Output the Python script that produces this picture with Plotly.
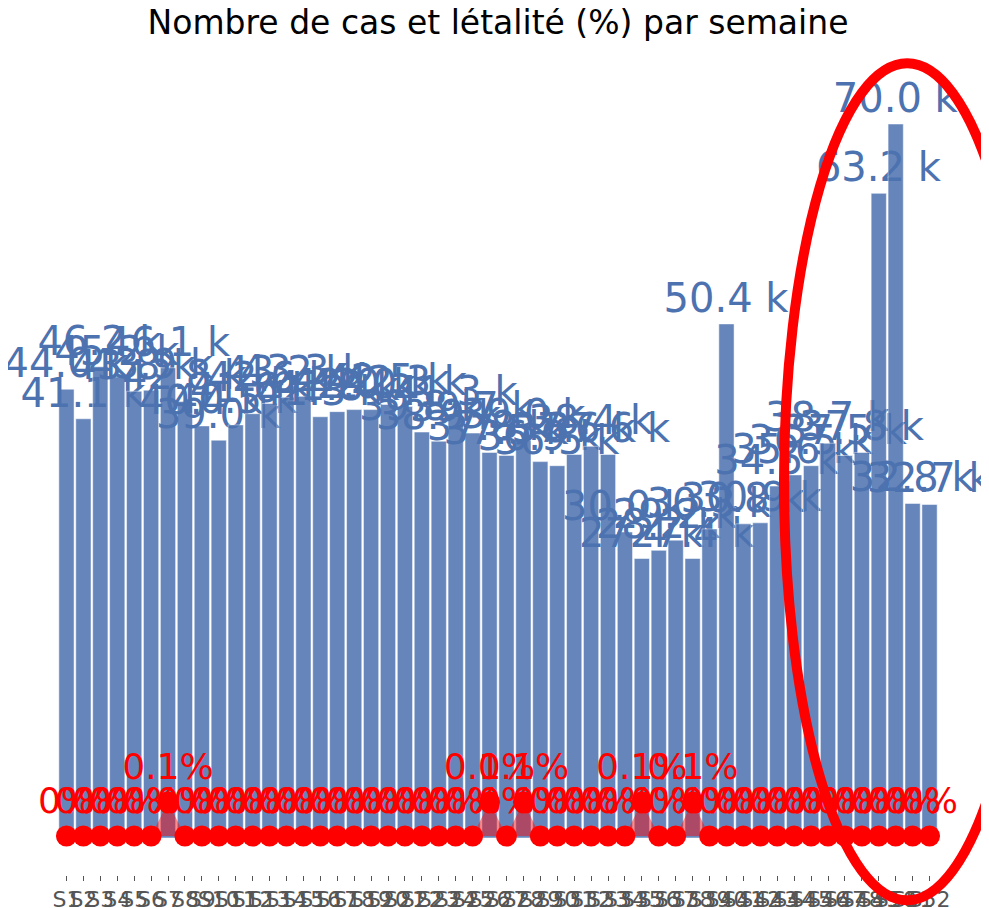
import plotly.graph_objects as go

weeks = ["S1", "S2", "S3", "S4", "S5", "S6", "S7", "S8", "S9", "S10",
         "S11", "S12", "S13", "S14", "S15", "S16", "S17", "S18", "S19", "S20",
         "S21", "S22", "S23", "S24", "S25", "S26", "S27", "S28", "S29", "S30",
         "S31", "S32", "S33", "S34", "S35", "S36", "S37", "S38", "S39", "S40",
         "S41", "S42", "S43", "S44", "S45", "S46", "S47", "S48", "S49", "S50",
         "S51", "S52"]

cases_k = [44.0, 41.1, 46.2, 45.2, 43.8, 43.9, 46.1, 42.8, 40.4, 39.0,
           40.5, 41.6, 42.6, 43.2, 43.3, 41.3, 41.8, 42.0, 42.0, 42.5,
           42.3, 39.8, 38.9, 41.3, 39.7, 37.8, 37.5, 39.0, 36.9, 36.5,
           37.6, 38.4, 37.6, 30.0, 27.4, 28.2, 29.2, 27.4, 30.3, 50.4,
           30.8, 30.9, 34.5, 35.6, 36.5, 38.7, 37.5, 37.8, 63.2, 70.0,
           32.8, 32.7]

lethality = [0, 0, 0, 0, 0, 0, 0.1, 0, 0, 0,
             0, 0, 0, 0, 0, 0, 0, 0, 0, 0,
             0, 0, 0, 0, 0, 0.1, 0, 0.1, 0, 0,
             0, 0, 0, 0, 0.1, 0, 0, 0.1, 0, 0,
             0, 0, 0, 0, 0, 0, 0, 0, 0, 0,
             0, 0]

cases = [v * 1000 for v in cases_k]
bar_text = [f"{v:.1f} k" for v in cases_k]

FONT = "DejaVu Sans"

fig = go.Figure()
fig.add_trace(go.Bar(
    x=weeks, y=cases, text=bar_text, textposition="outside",
    textfont=dict(color="#4C72B0", size=40, family=FONT),
    marker=dict(color="#4C72B0", opacity=0.85, line=dict(color="white", width=0.5)),
    cliponaxis=False, constraintext="none", hoverinfo="skip",
))
fig.add_trace(go.Scatter(
    x=weeks, y=lethality, yaxis="y2", mode="lines+markers+text",
    texttemplate="%{y}%", textposition="top center",
    textfont=dict(color="red", size=36, family=FONT),
    marker=dict(color="red", size=21),
    line=dict(color="red", width=0),
    fill="tozeroy", fillcolor="rgba(255,0,0,0.45)",
    cliponaxis=False,
))

fig.update_layout(
    width=989, height=908,
    margin=dict(l=50, r=59, t=52, b=41, autoexpand=False),
    showlegend=False,
    plot_bgcolor="white", paper_bgcolor="white",
    font=dict(family=FONT),
    bargap=0.1,
    title=dict(text="Nombre de cas et létalité (%) par semaine",
               xref="paper", x=0.5, xanchor="center",
               y=1 - 14 / 908, yanchor="middle",
               font=dict(size=33, color="black", family=FONT)),
    xaxis=dict(type="category", range=[-0.5, 51.5], automargin=False,
               tickangle=0, ticks="outside", ticklen=5,
               tickcolor="#555", tickfont=dict(size=22, color="#555", family=FONT),
               showgrid=False, showline=False, zeroline=False,
               tickmode="array", tickvals=weeks, ticktext=weeks),
    yaxis=dict(range=[-3627, 76275], visible=False, showgrid=False, automargin=False),
    yaxis2=dict(range=[-0.1147, 2.282], overlaying="y", side="right",
                visible=False, showgrid=False, automargin=False),
    shapes=[dict(type="circle", xref="paper", yref="paper",
                 x0=0.825, x1=1.105, y0=-0.031, y1=0.996,
                 line=dict(color="red", width=10))],
)

fig.write_html("out.html")
